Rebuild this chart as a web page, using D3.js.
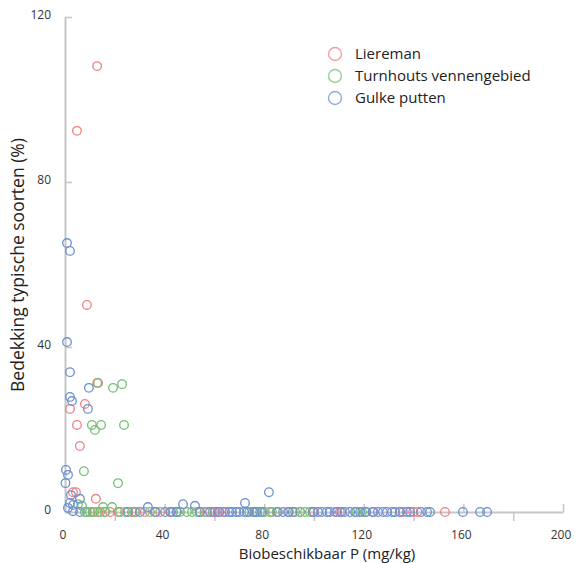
<!DOCTYPE html>
<html>
<head>
<meta charset="utf-8">
<script src="https://cdn.jsdelivr.net/npm/d3@7"></script>
<style>
  html, body { margin: 0; padding: 0; background: #fff; }
  svg text { font-family: "Open Sans", "Lato", sans-serif; }
</style>
</head>
<body>
<div id="chart"></div>
<script>
// scatter: Biobeschikbaar P vs bedekking typische soorten

const seriesNames = ["Liereman", "Turnhouts vennengebied", "Gulke putten"];
const seriesColors = ["#f07f7f", "#72bf72", "#6c8fd0"];

const xTicks = [0, 40, 80, 120, 160, 200];
const xMinorTicks = [20, 60, 100, 140, 180];
const yTicks = [0, 40, 80, 120];

// Liereman
const lieremanX = [12.9, 4.8, 8.8, 13.3, 8.0, 2.0, 4.8, 6.0, 3.2, 4.4, 12.4,
  11.2, 13.3, 16.0, 18.1, 21.3, 26.9, 28.5, 32.1, 38.2, 42.2, 45.0, 54.2, 57.0, 59.4, 61.4, 63.5,
  76.3, 83.1, 90.0, 94.4, 100.0, 108.4, 110.4, 124.0, 134.5, 135.7, 139.8, 141.5, 152.6];
const lieremanY = [108.1, 92.4, 50.2, 31.3, 26.2, 25.0, 21.1, 16.0, 4.8, 4.8, 3.2,
  0, 0, 0, 0, 0, 0, 0, 0, 0, 0, 0, 0, 0, 0, 0, 0,
  0, 0, 0, 0, 0, 0, 0, 0, 0, 0, 0, 0, 0];

// Turnhouts vennengebied
const turnhoutsX = [12.9, 19.3, 22.9, 10.8, 12.0, 14.5, 23.7, 7.6, 21.3, 5.2, 6.8, 15.3, 18.9,
  8.0, 8.8, 10.0, 11.8, 14.1, 16.1, 22.1, 24.1, 28.0, 34.1, 36.5, 43.4, 46.2, 49.0, 51.0, 53.0, 56.0,
  74.0, 76.3, 78.3, 80.3, 82.3, 85.0, 92.4, 94.4, 96.4, 98.4, 117.0, 119.3, 120.5];
const turnhoutsY = [31.3, 30.1, 31.0, 21.1, 19.9, 21.1, 21.1, 9.9, 7.0, 1.9, 1.5, 1.2, 1.2,
  0, 0, 0, 0, 0, 0, 0, 0, 0, 0, 0, 0, 0, 0, 0, 0, 0,
  0, 0, 0, 0, 0, 0, 0, 0, 0, 0, 0, 0, 0];

// Gulke putten
const gulkeX = [0.8, 2.0, 0.8, 2.0, 2.0, 2.8, 9.6, 9.2, 0.4, 1.2, 0.2, 2.4, 6.0, 2.0, 3.2, 1.2, 3.2,
  33.3, 47.4, 52.2, 72.3, 81.9,
  6.0, 25.3, 30.1, 36.1, 40.2, 42.5, 44.8, 54.2, 58.2, 60.2, 62.0, 64.3, 66.0, 67.1, 68.7, 70.0,
  71.9, 73.1, 75.5, 77.0, 79.1, 85.5, 87.6, 89.6, 91.5, 99.5, 101.6, 103.2, 105.2, 106.4, 109.2,
  111.0, 112.4, 114.5, 116.5, 118.5, 121.0, 123.5, 125.7, 127.7, 129.3, 131.3, 132.5, 134.5,
  137.3, 138.6, 143.0, 145.4, 146.6, 159.8, 166.7, 169.5];
const gulkeY = [65.2, 63.3, 41.2, 33.9, 27.9, 26.9, 30.1, 25.0, 10.2, 9.0, 7.0, 4.1, 3.2, 2.2, 1.7, 1.0, 0.2,
  1.2, 1.9, 1.5, 2.2, 4.8,
  0, 0, 0, 0, 0, 0, 0, 0, 0, 0, 0, 0, 0, 0, 0, 0,
  0, 0, 0, 0, 0, 0, 0, 0, 0, 0, 0, 0, 0, 0, 0,
  0, 0, 0, 0, 0, 0, 0, 0, 0, 0, 0, 0, 0,
  0, 0, 0, 0, 0, 0, 0, 0];

const series = [
  { name: seriesNames[0], color: seriesColors[0], xs: lieremanX, ys: lieremanY },
  { name: seriesNames[1], color: seriesColors[1], xs: turnhoutsX, ys: turnhoutsY },
  { name: seriesNames[2], color: seriesColors[2], xs: gulkeX, ys: gulkeY }
];

const W = 578, H = 563;
const axisColor = "#c6c6c6";

const svg = d3.select("#chart").append("svg")
  .attr("width", W)
  .attr("height", H);

const x = d3.scaleLinear().domain([0, 200]).range([65, 563]);
const y = d3.scaleLinear().domain([0, 120]).range([512, 17]);

// x axis: labelled ticks point up, minor ticks point down
const xAxis = svg.append("g")
  .attr("transform", `translate(0,${y(0)})`)
  .call(d3.axisTop(x).tickValues(xTicks).tickSize(8).tickSizeOuter(0).tickFormat(""));
xAxis.select(".domain").attr("stroke", axisColor).attr("stroke-width", 2);
xAxis.selectAll(".tick line").attr("stroke", axisColor).attr("stroke-width", 1.5);

const xMinor = svg.append("g")
  .attr("transform", `translate(0,${y(0)})`)
  .call(d3.axisBottom(x).tickValues(xMinorTicks).tickSize(9).tickFormat(""));
xMinor.select(".domain").remove();
xMinor.selectAll(".tick line").attr("stroke", axisColor).attr("stroke-width", 1.5);

svg.append("g").selectAll("text")
  .data(xTicks)
  .join("text")
  .attr("x", d => x(d) - 2)
  .attr("y", 539)
  .attr("text-anchor", "middle")
  .attr("font-size", 12)
  .attr("fill", "#333")
  .text(d => d);

// y axis: ticks point right
const yAxis = svg.append("g")
  .attr("transform", `translate(${x(0)},0)`)
  .call(d3.axisRight(y).tickValues(yTicks).tickSize(7).tickSizeOuter(0).tickFormat(""));
yAxis.select(".domain").attr("stroke", axisColor).attr("stroke-width", 2);
yAxis.selectAll(".tick line").attr("stroke", axisColor).attr("stroke-width", 1.5);

svg.append("g").selectAll("text")
  .data(yTicks)
  .join("text")
  .attr("x", 51)
  .attr("y", d => y(d) - 2)
  .attr("dy", "0.35em")
  .attr("text-anchor", "end")
  .attr("font-size", 12)
  .attr("fill", "#333")
  .text(d => d);

// axis titles
svg.append("text")
  .attr("x", 327)
  .attr("y", 558.5)
  .attr("text-anchor", "middle")
  .attr("font-size", 15)
  .attr("fill", "#222")
  .text("Biobeschikbaar P (mg/kg)");

svg.append("text")
  .attr("transform", `translate(24,265) rotate(-90)`)
  .attr("text-anchor", "middle")
  .attr("font-size", 17.5)
  .attr("fill", "#222")
  .text("Bedekking typische soorten (%)");

// points
series.forEach(s => {
  const pts = s.xs.map((v, i) => ({ x: v, y: s.ys[i] }));
  svg.append("g").selectAll("circle")
    .data(pts)
    .join("circle")
    .attr("cx", d => x(d.x))
    .attr("cy", d => y(d.y))
    .attr("r", 4.3)
    .attr("fill", "none")
    .attr("stroke", s.color)
    .attr("stroke-width", 1.3);
});

// legend
const legend = svg.append("g").attr("transform", "translate(335,54)");
series.forEach((s, i) => {
  legend.append("circle")
    .attr("cx", 0)
    .attr("cy", i * 22)
    .attr("r", 6.5)
    .attr("fill", "none")
    .attr("stroke", s.color)
    .attr("stroke-opacity", 0.75)
    .attr("stroke-width", 1.4);
  legend.append("text")
    .attr("x", 20)
    .attr("y", i * 22)
    .attr("dy", "0.35em")
    .attr("font-size", 15)
    .attr("fill", "#222")
    .text(s.name);
});
</script>
</body>
</html>
